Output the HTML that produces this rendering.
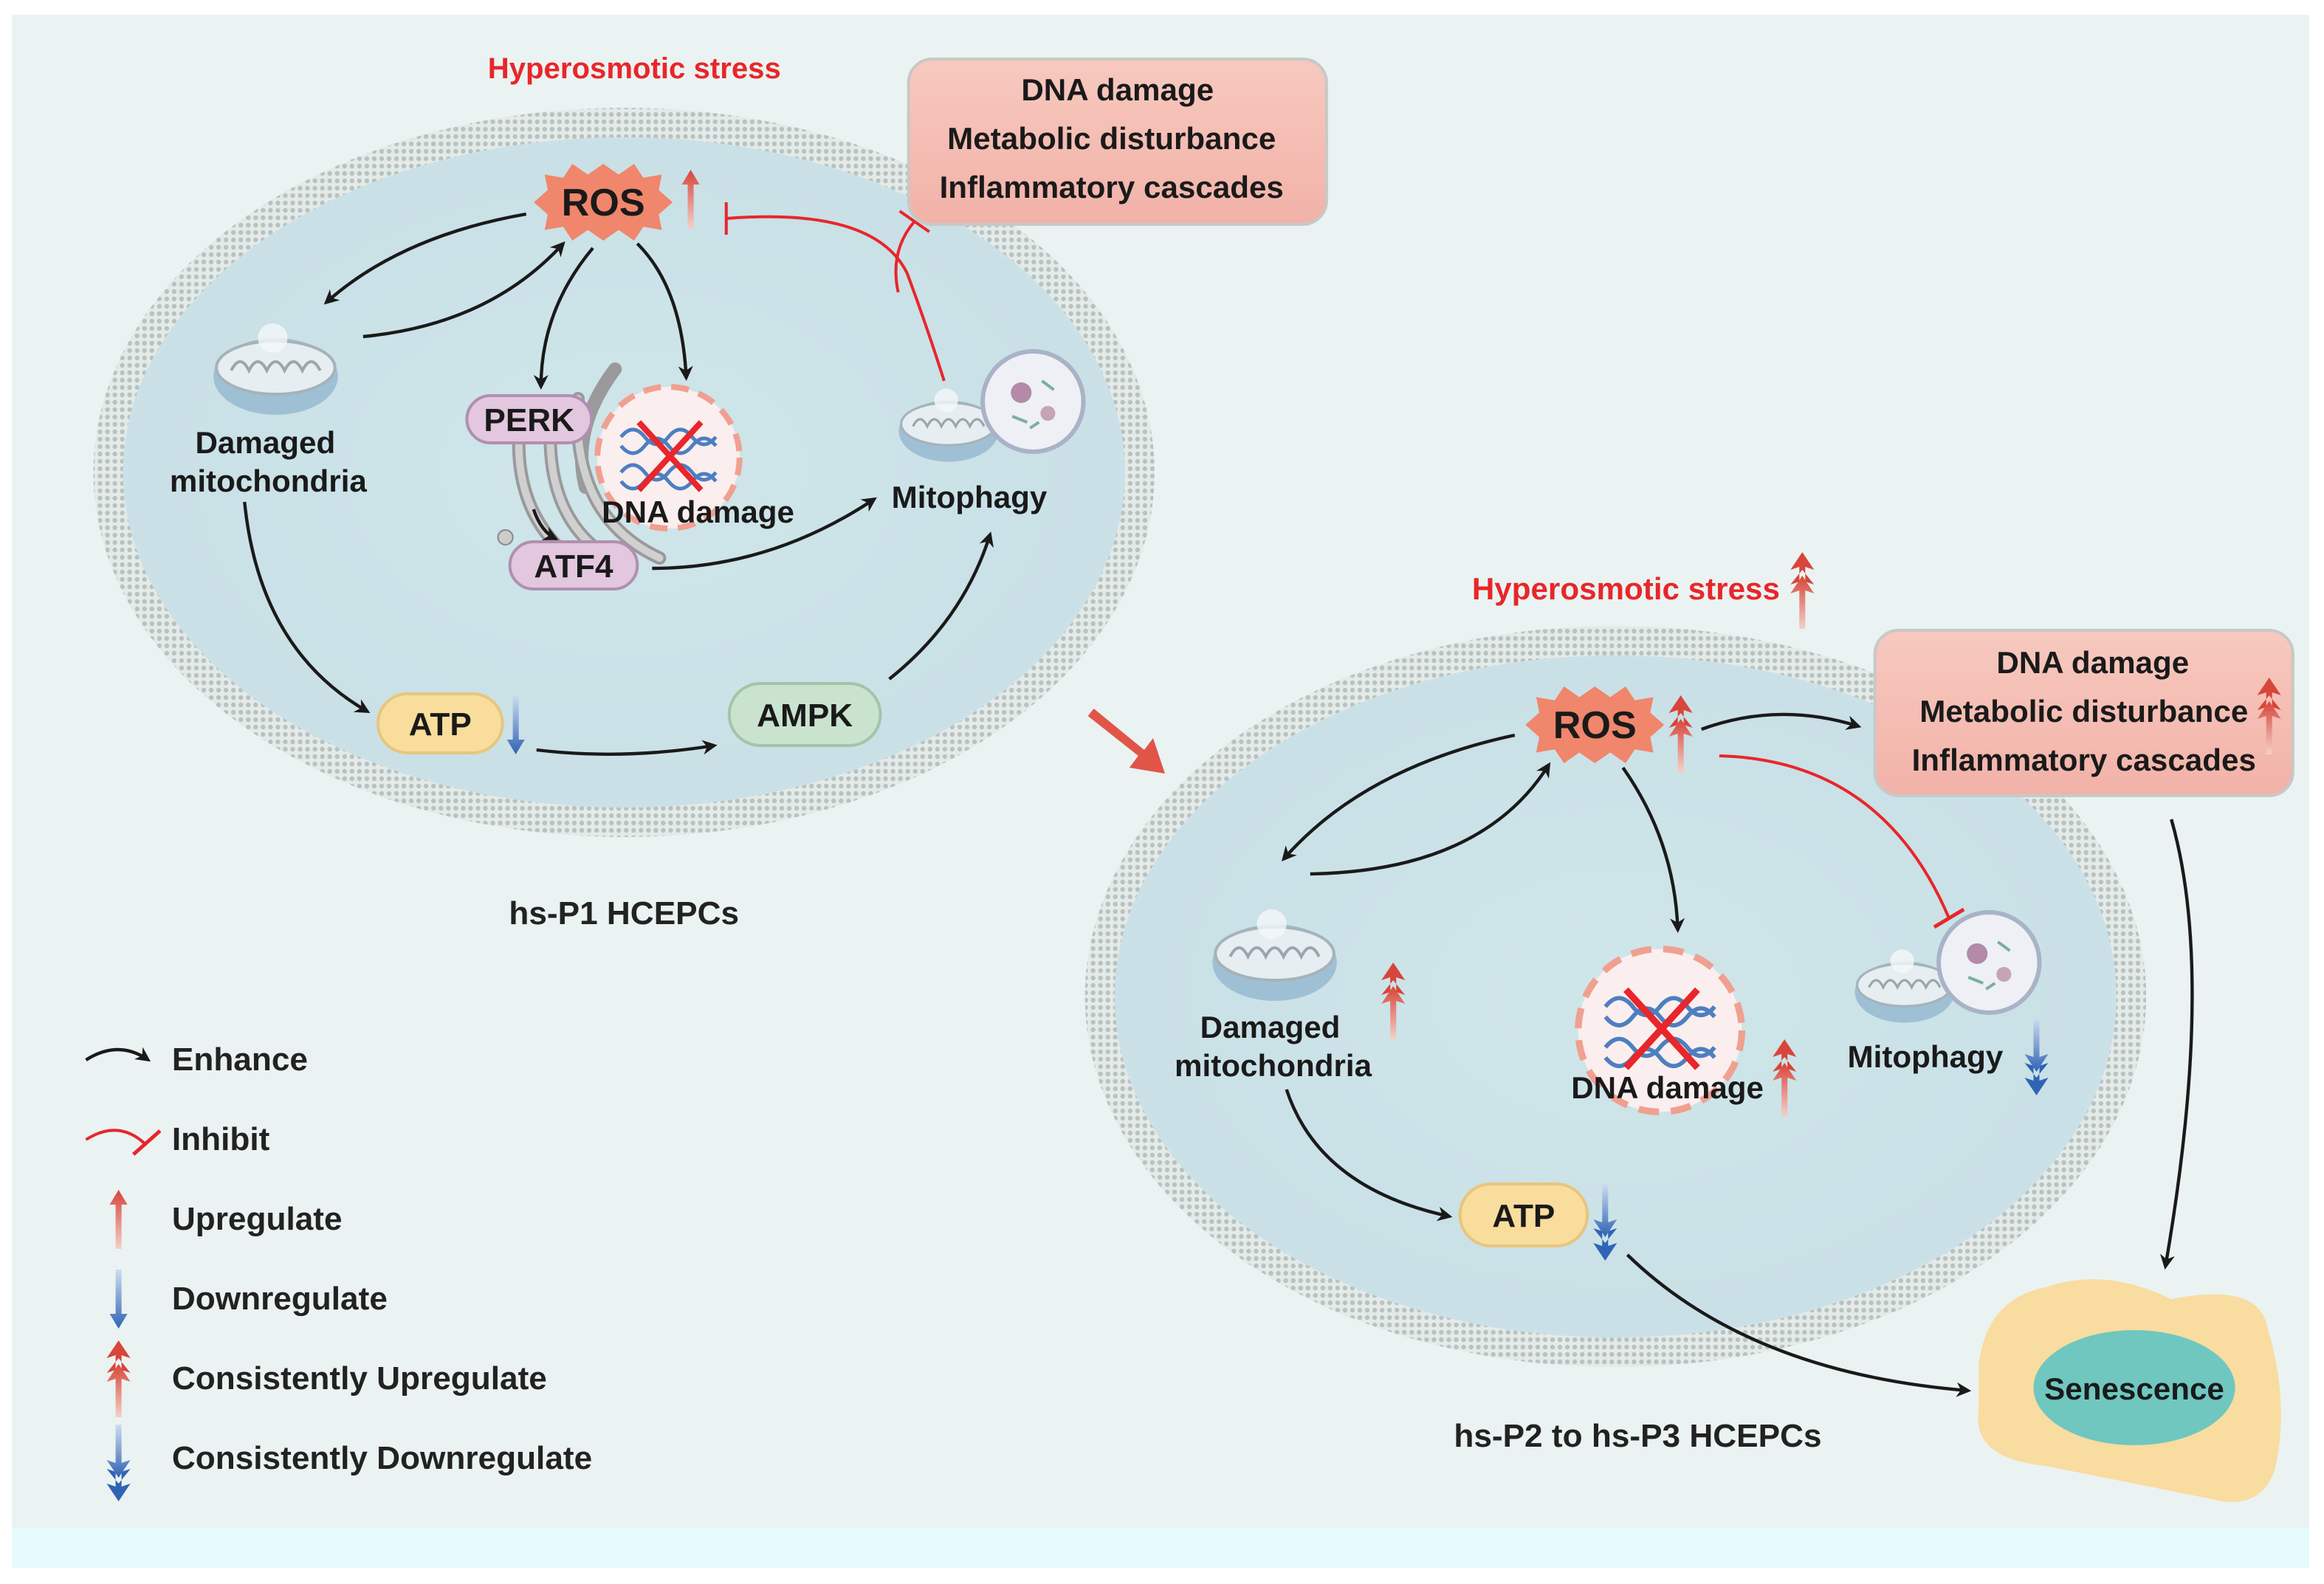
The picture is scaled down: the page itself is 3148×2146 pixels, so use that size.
<!DOCTYPE html>
<html><head><meta charset="utf-8"><style>
html,body{margin:0;padding:0;background:#fff;}
svg{display:block}
text{font-family:"Liberation Sans",Arial,sans-serif;font-weight:bold;}
</style></head><body>
<svg width="3148" height="2146" viewBox="0 0 1568 1073" preserveAspectRatio="none" xmlns="http://www.w3.org/2000/svg">
<defs>
<radialGradient id="cell" cx="50%" cy="50%" r="60%">
<stop offset="0" stop-color="#cfe6ea"/><stop offset="0.8" stop-color="#c9e0e6"/><stop offset="1" stop-color="#d6e3ee"/></radialGradient>
<pattern id="mem" width="5" height="5" patternUnits="userSpaceOnUse"><rect width="5" height="5" fill="#e4eae8"/><circle cx="2.5" cy="2.5" r="1.6" fill="#b7c3c0"/></pattern>
<marker id="ah" markerWidth="10" markerHeight="10" refX="8" refY="5" orient="auto" markerUnits="userSpaceOnUse"><path d="M0,0 L10,5 L0,10 L3,5z" fill="#1a1a1a"/></marker>
<linearGradient id="up" x1="0" y1="1" x2="0" y2="0"><stop offset="0" stop-color="#f3d0c8"/><stop offset="1" stop-color="#d8453a"/></linearGradient>
<linearGradient id="dn" x1="0" y1="0" x2="0" y2="1"><stop offset="0" stop-color="#cfdcef"/><stop offset="1" stop-color="#2f64b5"/></linearGradient>
<linearGradient id="pink" x1="0" y1="0" x2="0" y2="1"><stop offset="0" stop-color="#f7c9bf"/><stop offset="1" stop-color="#f2b2a8"/></linearGradient>
<symbol id="ros" viewBox="-50 -25 100 50"><path d="M-45,0 L-36,-8 -38,-18 -26,-16 -20,-25 -10,-18 0,-25 10,-18 20,-25 26,-16 38,-18 36,-8 45,0 36,8 38,18 26,16 20,25 10,18 0,25 -10,18 -20,25 -26,16 -38,18 -36,8z" fill="#f0866b"/></symbol>
<g id="mito"><ellipse cx="0" cy="0" rx="42" ry="26" fill="#9fc0d4"/><ellipse cx="0" cy="-6" rx="40" ry="18" fill="#e6eef2" stroke="#a5b3ba" stroke-width="2"/><path d="M-30,-4 q6,-12 12,0 q6,-12 12,0 q6,-12 12,0 q6,-12 12,0 q6,-12 12,0" fill="none" stroke="#9aa6ad" stroke-width="2"/><circle cx="-2" cy="-26" r="10" fill="#f4f8fa" opacity="0.8"/></g>
<g id="upar"><path d="M0,-20 L6,-10 L2,-10 L2,20 L-2,20 L-2,-10 L-6,-10z" fill="url(#up)"/></g>
<g id="dnar"><path d="M0,20 L6,10 L2,10 L2,-20 L-2,-20 L-2,10 L-6,10z" fill="url(#dn)"/></g>
<g id="cup"><path d="M0,-26 L8,-14 L2,-16 L2,-6 L8,-4 L0,-14 -8,-4 -2,-6 -2,-16 -8,-14z" fill="#d8453a"/><path d="M0,-10 L8,2 L2,0 L2,26 L-2,26 L-2,0 L-8,2z" fill="url(#up)"/></g>
<g id="cdn"><path d="M0,26 L8,14 L2,16 L2,6 L8,4 L0,14 -8,4 -2,6 -2,16 -8,14z" fill="#2f64b5"/><path d="M0,10 L8,-2 L2,0 L2,-26 L-2,-26 L-2,0 L-8,-2z" fill="url(#dn)"/></g>
<g id="phago"><circle r="34" fill="#eef0f6" stroke="#a9b3c6" stroke-width="3"/><circle cx="-8" cy="-6" r="7" fill="#b38aa8"/><circle cx="10" cy="8" r="5" fill="#c6a3b7"/><path d="M-14,10 l10,4 M6,-14 l8,6 M-2,18 l6,-4" stroke="#7ab09b" stroke-width="2"/></g>
<g id="dna"><circle r="48" fill="#fbeeee" stroke="#f0a090" stroke-width="4" stroke-dasharray="12 7"/><path d="M-32,-14 q8,-10 16,0 t16,0 t16,0 t16,0 M-32,-8 q8,10 16,0 t16,0 t16,0 t16,0 M-32,10 q8,-10 16,0 t16,0 t16,0 t16,0 M-32,16 q8,10 16,0 t16,0 t16,0 t16,0" fill="none" stroke="#4d7fc0" stroke-width="2.5"/><path d="M-20,-24 L22,22 M22,-24 L-20,22" stroke="#e8262b" stroke-width="4"/></g>
</defs>
<rect width="1568" height="1073" fill="#fff"/>
<rect x="8" y="10" width="1550" height="1025" fill="#eaf3f1"/>
<rect x="8" y="1035" width="1550" height="27" fill="#e6fbfb"/>

<!-- Cell 1 -->
<ellipse cx="421" cy="320" rx="358" ry="247" fill="url(#mem)"/>
<ellipse cx="421" cy="320" rx="338" ry="227" fill="url(#cell)"/>
<text x="428" y="53" font-size="20" fill="#e8262b" text-anchor="middle">Hyperosmotic stress</text>
<rect x="613" y="40" width="282" height="112" rx="16" fill="url(#pink)" stroke="#c8c8c8" stroke-width="2"/>
<text x="754" y="68" font-size="21" text-anchor="middle" fill="#1a1a1a">DNA damage</text>
<text x="750" y="101" font-size="21" text-anchor="middle" fill="#1a1a1a">Metabolic disturbance</text>
<text x="750" y="134" font-size="21" text-anchor="middle" fill="#1a1a1a">Inflammatory cascades</text>
<use href="#ros" x="355" y="111" width="104" height="52"/>
<text x="407" y="146" font-size="26" text-anchor="middle" fill="#1a1a1a">ROS</text>
<use href="#upar" x="466" y="135"/>
<use href="#mito" x="186" y="255"/>
<text x="179" y="307" font-size="21" text-anchor="middle" fill="#1a1a1a">Damaged</text>
<text x="181" y="333" font-size="21" text-anchor="middle" fill="#1a1a1a">mitochondria</text>
<g fill="none" stroke="#9a9a9a" stroke-width="9" stroke-linecap="round"><path d="M350,300 Q350,360 400,388"/><path d="M372,280 Q365,360 425,385"/><path d="M390,270 Q385,350 445,378"/><path d="M415,250 Q385,290 395,330"/></g>
<g fill="none" stroke="#d0d0d0" stroke-width="5" stroke-linecap="round"><path d="M350,300 Q350,360 400,388"/><path d="M372,280 Q365,360 425,385"/><path d="M390,270 Q385,350 445,378"/></g>
<circle cx="341" cy="364" r="5" fill="#ccc" stroke="#888"/>
<rect x="315" y="268" width="84" height="32" rx="16" fill="#e2c7df" stroke="#b08fb0" stroke-width="2"/>
<text x="357" y="292" font-size="22" text-anchor="middle" fill="#1a1a1a">PERK</text>
<rect x="344" y="367" width="86" height="32" rx="16" fill="#e2c7df" stroke="#b08fb0" stroke-width="2"/>
<text x="387" y="391" font-size="22" text-anchor="middle" fill="#1a1a1a">ATF4</text>
<use href="#dna" x="451" y="310"/>
<text x="471" y="354" font-size="21" text-anchor="middle" fill="#1a1a1a">DNA damage</text>
<g transform="translate(640,292) scale(0.8)"><use href="#mito"/></g>
<use href="#phago" x="697" y="272"/>
<text x="654" y="344" font-size="21" text-anchor="middle" fill="#1a1a1a">Mitophagy</text>
<rect x="255" y="470" width="84" height="40" rx="20" fill="#f9dd9c" stroke="#e6c67e" stroke-width="2"/>
<text x="297" y="498" font-size="22" text-anchor="middle" fill="#1a1a1a">ATP</text>
<use href="#dnar" x="348" y="491"/>
<rect x="492" y="463" width="102" height="42" rx="21" fill="#c9e3cf" stroke="#a2c5aa" stroke-width="2"/>
<text x="543" y="492" font-size="22" text-anchor="middle" fill="#1a1a1a">AMPK</text>
<g fill="none" stroke="#1a1a1a" stroke-width="2.2">
<path d="M355,145 Q270,160 220,205" marker-end="url(#ah)"/>
<path d="M245,228 Q330,220 380,165" marker-end="url(#ah)"/>
<path d="M400,168 Q365,210 365,262" marker-end="url(#ah)"/>
<path d="M430,165 Q460,195 463,256" marker-end="url(#ah)"/>
<path d="M360,345 Q365,360 375,365" marker-end="url(#ah)"/>
<path d="M440,385 Q520,385 590,338" marker-end="url(#ah)"/>
<path d="M165,340 Q175,440 248,482" marker-end="url(#ah)"/>
<path d="M362,508 Q420,515 482,505" marker-end="url(#ah)"/>
<path d="M600,460 Q650,420 668,362" marker-end="url(#ah)"/>
</g>
<g fill="none" stroke="#e8262b" stroke-width="2">
<path d="M490,148 Q590,140 612,185 Q625,220 637,258"/>
<path d="M490,137 L490,159"/>
<path d="M606,198 Q600,170 617,150"/>
<path d="M607,143 L627,157"/>
</g>
<text x="421" y="626" font-size="22" text-anchor="middle" fill="#222">hs-P1 HCEPCs</text>

<path d="M738,480 L772,508 L778,500 L786,524 L762,520 L768,512 L734,485z" fill="#e05548"/>

<!-- Cell 2 -->
<ellipse cx="1090" cy="675" rx="358" ry="251" fill="url(#mem)"/>
<ellipse cx="1090" cy="675" rx="338" ry="231" fill="url(#cell)"/>
<text x="1097" y="406" font-size="21" fill="#e8262b" text-anchor="middle">Hyperosmotic stress</text>
<use href="#cup" x="1216" y="400"/>
<rect x="1265" y="427" width="282" height="112" rx="16" fill="url(#pink)" stroke="#c8c8c8" stroke-width="2"/>
<text x="1412" y="456" font-size="21" text-anchor="middle" fill="#1a1a1a">DNA damage</text>
<text x="1406" y="489" font-size="21" text-anchor="middle" fill="#1a1a1a">Metabolic disturbance</text>
<text x="1406" y="522" font-size="21" text-anchor="middle" fill="#1a1a1a">Inflammatory cascades</text>
<use href="#cup" x="1531" y="485"/>
<use href="#ros" x="1024" y="465" width="104" height="52"/>
<text x="1076" y="500" font-size="26" text-anchor="middle" fill="#1a1a1a">ROS</text>
<use href="#cup" x="1134" y="497"/>
<use href="#mito" x="860" y="652"/>
<use href="#cup" x="940" y="678"/>
<text x="857" y="703" font-size="21" text-anchor="middle" fill="#1a1a1a">Damaged</text>
<text x="859" y="729" font-size="21" text-anchor="middle" fill="#1a1a1a">mitochondria</text>
<g transform="translate(1120,698) scale(1.15)"><use href="#dna"/></g>
<text x="1125" y="744" font-size="21" text-anchor="middle" fill="#1a1a1a">DNA damage</text>
<use href="#cup" x="1204" y="730"/>
<g transform="translate(1285,672) scale(0.8)"><use href="#mito"/></g>
<use href="#phago" x="1342" y="652"/>
<text x="1299" y="723" font-size="21" text-anchor="middle" fill="#1a1a1a">Mitophagy</text>
<use href="#cdn" x="1374" y="716"/>
<rect x="985" y="802" width="86" height="42" rx="21" fill="#f9dd9c" stroke="#e6c67e" stroke-width="2"/>
<text x="1028" y="831" font-size="22" text-anchor="middle" fill="#1a1a1a">ATP</text>
<use href="#cdn" x="1083" y="828"/>
<g fill="none" stroke="#1a1a1a" stroke-width="2.2">
<path d="M1022,498 Q920,520 866,582" marker-end="url(#ah)"/>
<path d="M884,592 Q1000,590 1045,518" marker-end="url(#ah)"/>
<path d="M1095,520 Q1130,570 1132,630" marker-end="url(#ah)"/>
<path d="M1148,494 Q1200,475 1254,492" marker-end="url(#ah)"/>
<path d="M868,738 Q890,805 978,824" marker-end="url(#ah)"/>
<path d="M1098,850 Q1180,930 1328,942" marker-end="url(#ah)"/>
<path d="M1465,555 Q1495,660 1461,858" marker-end="url(#ah)"/>
</g>
<path d="M1160,512 Q1270,515 1315,622" fill="none" stroke="#e8262b" stroke-width="2"/>
<path d="M1305,628 L1325,616" stroke="#e8262b" stroke-width="2.5"/>
<text x="1105" y="980" font-size="22" text-anchor="middle" fill="#222">hs-P2 to hs-P3 HCEPCs</text>

<!-- Senescence -->
<path d="M1335,925 Q1340,880 1380,872 Q1420,858 1465,880 Q1525,868 1530,900 Q1545,950 1535,995 Q1525,1025 1490,1015 Q1430,1003 1380,993 Q1330,988 1335,955z" fill="#f9dca0"/>
<ellipse cx="1440" cy="940" rx="68" ry="39" fill="#6fc7c0"/>
<text x="1440" y="948" font-size="21" text-anchor="middle" fill="#1a1a1a">Senescence</text>

<!-- Legend -->
<path d="M58,718 Q80,704 100,718" fill="none" stroke="#1a1a1a" stroke-width="2.2" marker-end="url(#ah)"/>
<text x="116" y="725" font-size="22" fill="#222">Enhance</text>
<path d="M58,772 Q80,758 98,775" fill="none" stroke="#e8262b" stroke-width="2"/>
<path d="M90,782 L108,766" stroke="#e8262b" stroke-width="2.5"/>
<text x="116" y="779" font-size="22" fill="#222">Inhibit</text>
<use href="#upar" x="80" y="826"/>
<text x="116" y="833" font-size="22" fill="#222">Upregulate</text>
<use href="#dnar" x="80" y="880"/>
<text x="116" y="887" font-size="22" fill="#222">Downregulate</text>
<use href="#cup" x="80" y="934"/>
<text x="116" y="941" font-size="22" fill="#222">Consistently Upregulate</text>
<use href="#cdn" x="80" y="991"/>
<text x="116" y="995" font-size="22" fill="#222">Consistently Downregulate</text>
</svg>
</body></html>
